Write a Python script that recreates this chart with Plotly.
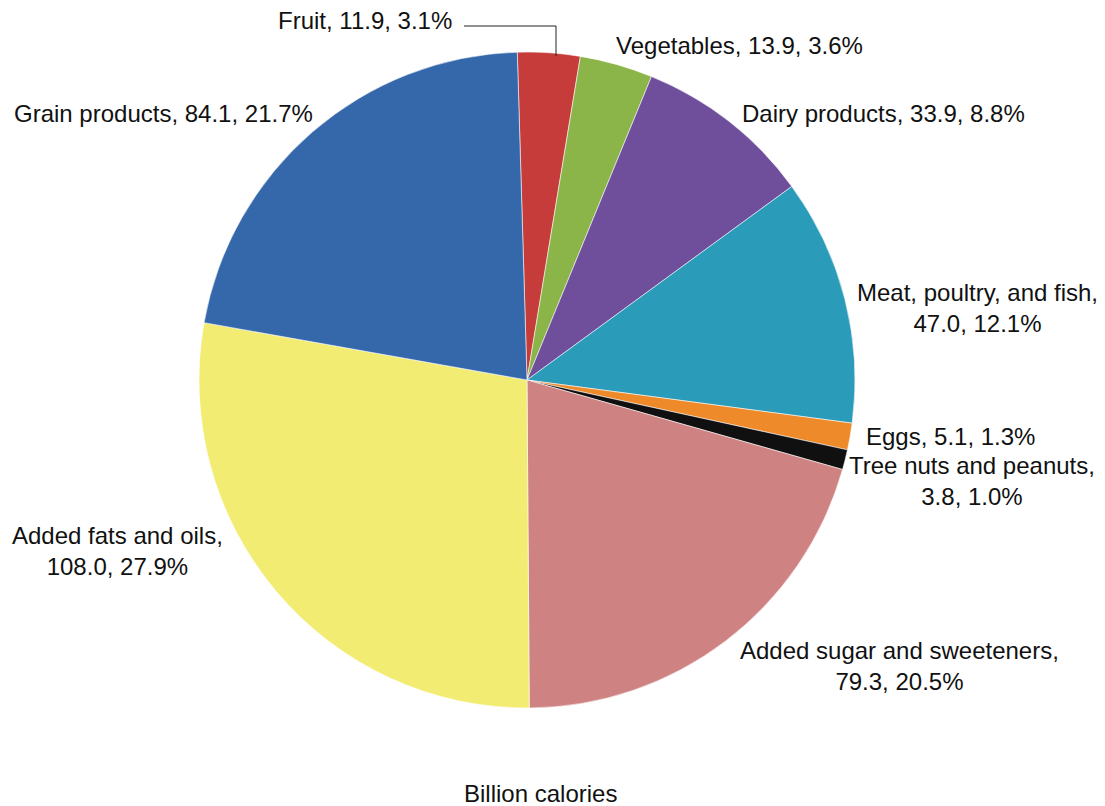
import plotly.graph_objects as go

categories = ["Fruit", "Vegetables", "Dairy products", "Meat, poultry, and fish",
              "Eggs", "Tree nuts and peanuts", "Added sugar and sweeteners",
              "Added fats and oils", "Grain products"]
values = [11.9, 13.9, 33.9, 47.0, 5.1, 3.8, 79.3, 108.0, 84.1]
percents = ["3.1%", "3.6%", "8.8%", "12.1%", "1.3%", "1.0%", "20.5%", "27.9%", "21.7%"]
colors = ["#c63c3b", "#8bb548", "#6f4f9c", "#2a9bb8", "#ef8a2b", "#101010",
          "#cf8282", "#f3ec73", "#3468ab"]

W, H = 1105, 806
cx, cy, r = 527, 380, 328

fig = go.Figure(go.Pie(
    labels=categories, values=values, sort=False, direction="clockwise",
    rotation=-1.7, textinfo="none", hoverinfo="label+value+percent",
    marker=dict(colors=colors, line=dict(color="rgba(255,255,255,0.55)", width=1)),
    domain=dict(x=[(cx - r) / W, (cx + r) / W], y=[(H - cy - r) / H, (H - cy + r) / H]),
    showlegend=False,
))

# label text: "name, value, pct" with manual line breaks
label_texts = [
    "Fruit, 11.9, 3.1%",
    "Vegetables, 13.9, 3.6%",
    "Dairy products, 33.9, 8.8%",
    "Meat, poultry, and fish,<br>47.0, 12.1%",
    "Eggs, 5.1, 1.3%",
    "Tree nuts and peanuts,<br>3.8, 1.0%",
    "Added sugar and sweeteners,<br>79.3, 20.5%",
    "Added fats and oils,<br>108.0, 27.9%",
    "Grain products, 84.1, 21.7%",
]
label_pos = [(365, 20), (739, 45), (883, 113), (977, 308), (950, 437),
             (972, 481), (899, 666), (117, 551), (163, 113)]

FONT = dict(family="Liberation Sans, Arial, sans-serif", size=24, color="#111")

for txt, (px, py) in zip(label_texts, label_pos):
    fig.add_annotation(x=px / W, y=1 - py / H, xref="paper", yref="paper",
                       text=txt, showarrow=False, align="center",
                       xanchor="center", yanchor="middle", font=FONT)

fig.add_annotation(x=540 / W, y=1 - 793 / H, xref="paper", yref="paper",
                   text="Billion calories", showarrow=False,
                   xanchor="center", yanchor="middle", font=FONT)

# leader line for Fruit label
fig.add_shape(type="path", xref="paper", yref="paper",
              path=f"M {464/W} {1-26/H} L {556/W} {1-26/H} L {556/W} {1-56/H}",
              line=dict(color="#222", width=1))

fig.update_layout(width=W, height=H, margin=dict(l=0, r=0, t=0, b=0),
                  paper_bgcolor="white", plot_bgcolor="white")
fig.write_html("out.html", config={"displayModeBar": False})

# remove default body margin so the figure fills the window exactly
with open("out.html", "r", encoding="utf-8") as f:
    html = f.read()
html = html.replace("<head>", "<head><style>html,body{margin:0;padding:0;overflow:hidden;}</style>", 1)
with open("out.html", "w", encoding="utf-8") as f:
    f.write(html)
